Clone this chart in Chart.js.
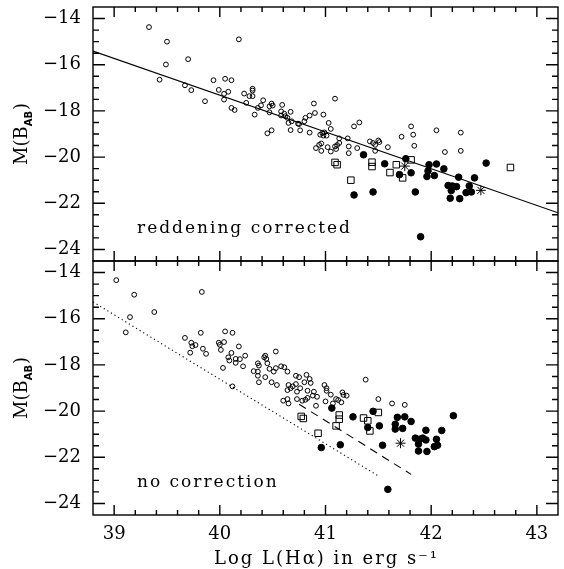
<!DOCTYPE html>
<html>
<head>
<meta charset="utf-8">
<script src="https://cdn.jsdelivr.net/npm/chart.js@4.4.1/dist/chart.umd.min.js"></script>
<style>
  html, body { margin: 0; padding: 0; background: #fff; }
  canvas { display: block; }
</style>
</head>
<body>
<canvas id="myChart" width="564" height="569"></canvas>
<script>
// axis ticks
const xTicks = [39, 40, 41, 42, 43];
const yTicks = [-14, -16, -18, -20, -22, -24];

// top panel: reddening corrected  [log L(Ha), M(B_AB)]
const topOpen = [
  [39.33,-14.37],[39.50,-15.00],[40.18,-14.90],[39.49,-15.99],[39.70,-15.76],[39.43,-16.65],
  [39.67,-16.89],[39.73,-17.10],[39.86,-17.58],[39.94,-16.67],[40.05,-16.61],[40.11,-16.67],
  [39.99,-17.09],[40.04,-17.26],[40.08,-17.17],[40.04,-17.51],[40.11,-17.87],[40.14,-17.96],
  [40.23,-17.25],[40.25,-17.65],[40.31,-17.04],[40.31,-17.12],[40.31,-17.36],[40.28,-17.36],
  [40.41,-17.54],[40.39,-17.76],[40.36,-17.87],[40.33,-18.16],[40.47,-17.80],[40.49,-17.68],
  [40.50,-17.77],[40.47,-18.06],[40.59,-17.74],[40.58,-18.02],[40.58,-18.20],[40.61,-18.12],
  [40.62,-18.23],[40.64,-18.30],[40.67,-18.04],[40.68,-18.45],[40.65,-18.52],[40.74,-18.55],
  [40.75,-18.57],[40.67,-18.83],[40.76,-18.84],[40.80,-18.45],[40.81,-18.30],[40.85,-18.20],
  [40.89,-17.68],[40.90,-18.09],[40.98,-18.16],[41.09,-17.47],[40.85,-18.94],[41.03,-18.52],
  [41.05,-18.78],[40.45,-18.97],[40.49,-18.84],[40.95,-19.03],[40.97,-18.96],[40.99,-18.93],
  [40.98,-19.07],[41.01,-19.07],[40.96,-19.41],[40.94,-19.47],[40.91,-19.61],[40.96,-19.73],
  [41.02,-19.57],[41.05,-19.76],[41.09,-19.54],[41.11,-19.48],[41.13,-19.39],[41.13,-19.19],
  [41.10,-19.65],[41.21,-19.19],[41.22,-19.54],[41.22,-19.83],[41.30,-19.61],[41.27,-18.67],
  [41.32,-18.50],[41.42,-19.32],[41.45,-19.39],[41.50,-19.28],[41.51,-19.35],[41.47,-19.47],
  [41.47,-19.73],[41.59,-19.57],[41.72,-19.12],[41.81,-18.67],[41.83,-19.03],[41.84,-19.51],
  [42.05,-18.84],[42.28,-18.94],[42.13,-19.78],[42.28,-19.73]
];
const topFilled = [
  [41.36,-19.90],[41.56,-20.29],[41.76,-20.07],[41.70,-20.76],[41.81,-20.68],[41.98,-20.33],
  [42.05,-20.30],[41.97,-20.60],[41.96,-20.84],[42.03,-20.80],[42.12,-20.51],[42.26,-20.87],
  [42.41,-20.90],[42.52,-20.26],[41.27,-21.64],[41.45,-21.51],[41.85,-21.51],[41.90,-23.45],
  [42.16,-21.23],[42.20,-21.25],[42.24,-21.28],[42.19,-21.45],[42.36,-21.25],[42.18,-21.78],
  [42.27,-21.80],[42.33,-21.54],[42.38,-21.51]
];
const topSquares = [
  [41.09,-20.23],[41.11,-20.33],[41.24,-21.00],[41.44,-20.22],[41.44,-20.41],[41.61,-20.67],
  [41.67,-20.33],[41.73,-20.90],[41.81,-20.12],[42.75,-20.45]
];
const topStars = [[41.75,-20.39],[42.47,-21.44]];
const fitTop = [[38.8,-15.41],[43.2,-22.41]];

// bottom panel: no correction
const botOpen = [
  [39.02,-14.33],[39.19,-14.96],[39.83,-14.84],[39.15,-15.93],[39.38,-15.71],[39.11,-16.59],
  [39.67,-16.83],[39.82,-16.61],[39.73,-17.04],[39.77,-17.14],[39.74,-17.19],[39.72,-17.47],
  [39.84,-17.30],[39.87,-17.52],[40.05,-16.55],[40.12,-16.61],[39.99,-17.04],[40.04,-17.01],
  [40.00,-17.13],[40.01,-17.35],[40.18,-17.20],[40.03,-18.13],[40.12,-18.93],[40.11,-17.48],
  [40.08,-17.67],[40.09,-17.81],[40.15,-17.91],[40.19,-17.75],[40.15,-17.74],[40.22,-18.06],
  [40.24,-17.60],[40.42,-17.67],[40.43,-17.60],[40.44,-17.74],[40.53,-17.42],[40.36,-17.93],
  [40.37,-18.03],[40.32,-18.27],[40.36,-18.29],[40.36,-18.47],[40.37,-18.75],[40.45,-17.93],
  [40.47,-18.17],[40.43,-18.53],[40.49,-18.75],[40.51,-18.29],[40.53,-18.14],[40.58,-18.06],
  [40.61,-18.10],[40.64,-18.29],[40.54,-18.87],[40.72,-18.47],[40.75,-18.53],[40.72,-18.83],
  [40.65,-18.87],[40.64,-19.09],[40.67,-19.01],[40.69,-18.93],[40.76,-19.01],[40.73,-19.16],
  [40.82,-18.43],[40.85,-18.61],[40.80,-18.75],[40.86,-18.78],[40.83,-19.12],[40.89,-19.16],
  [40.92,-19.38],[40.88,-19.33],[40.91,-19.77],[40.60,-19.55],[40.64,-19.48],[40.65,-19.67],
  [40.73,-19.48],[40.78,-19.55],[40.81,-19.51],[40.83,-19.43],[40.99,-18.87],[41.01,-19.01],
  [41.01,-19.12],[41.05,-19.29],[41.10,-19.48],[41.00,-19.58],[41.12,-19.52],[41.16,-19.19],
  [41.17,-19.30],[41.20,-19.33],[41.15,-19.62],[41.07,-19.67],[41.38,-18.64],[41.50,-19.48],
  [41.63,-19.67],[41.75,-19.73]
];
const botFilled = [
  [41.06,-19.87],[41.26,-20.25],[40.96,-21.58],[41.14,-21.46],[41.45,-20.01],[41.51,-20.64],
  [41.40,-20.71],[41.54,-21.48],[41.59,-23.39],[41.68,-20.27],[41.75,-20.25],[41.66,-20.57],
  [41.66,-20.78],[41.73,-20.75],[41.81,-20.45],[41.95,-20.83],[42.10,-20.84],[42.21,-20.20],
  [41.85,-21.17],[41.89,-21.22],[41.92,-21.17],[41.95,-21.25],[41.88,-21.43],[41.88,-21.73],
  [41.96,-21.75],[42.05,-21.22],[42.06,-21.48],[42.03,-21.54]
];
const botSquares = [
  [40.77,-20.23],[40.79,-20.32],[40.93,-20.96],[41.10,-20.64],[41.13,-20.17],[41.13,-20.35],
  [41.36,-20.30],[41.40,-20.42],[41.42,-20.86],[41.50,-20.06]
];
const botStars = [[41.71,-21.39]];
const dottedBot = [[38.8,-15.27],[41.5,-22.81]];
const dashedBot = [[40.75,-19.70],[41.81,-22.74]];

const serif = 'DejaVu Serif';
const toPts = arr => arr.map(p => ({ x: p[0], y: p[1] }));

function marks(data, axis, style) {
  return Object.assign({
    type: 'scatter', data: toPts(data), yAxisID: axis,
    borderColor: '#000', backgroundColor: 'rgba(0,0,0,0)', borderWidth: 1
  }, style);
}
function line(data, axis, dash) {
  return {
    type: 'scatter', data: toPts(data), yAxisID: axis, showLine: true,
    pointRadius: 0, borderColor: '#000', borderWidth: 1.1, borderDash: dash
  };
}

const openStyle = { pointStyle: 'circle', pointRadius: 2.4 };
const filledStyle = { pointStyle: 'circle', pointRadius: 3.3, backgroundColor: '#000' };
const squareStyle = { pointStyle: 'rect', pointRadius: 4.6 };
const starStyle = { pointStyle: 'star', pointRadius: 5 };

// no extra room for label overflow, the plot box is fixed
function noPad(s) {
  s.paddingTop = 0; s.paddingBottom = 0; s.paddingLeft = 0; s.paddingRight = 0;
}

// frame, inner ticks on all sides, and the texts
const frameTicks = {
  id: 'frameTicks',
  afterDraw(chart) {
    const { ctx, chartArea: ca, scales } = chart;
    const xs = scales.x;
    ctx.save();
    ctx.strokeStyle = '#000';
    ctx.lineWidth = 1.4;
    ['yTop', 'yBot'].forEach(id => {
      const ys = scales[id];
      const t = ys.top, b = ys.bottom, l = ca.left, r = ca.right;
      ctx.strokeRect(l, t, r - l, b - t);
      ctx.beginPath();
      for (let i = 195; i <= 215; i++) {
        const px = xs.getPixelForValue(i / 5);
        const len = i % 5 === 0 ? 10 : 5;
        ctx.moveTo(px, t); ctx.lineTo(px, t + len);
        ctx.moveTo(px, b); ctx.lineTo(px, b - len);
      }
      for (let i = -48; i <= -28; i++) {
        const py = ys.getPixelForValue(i / 2);
        const len = i % 4 === 0 ? 12 : 6;
        ctx.moveTo(l, py); ctx.lineTo(l + len, py);
        ctx.moveTo(r, py); ctx.lineTo(r - len, py);
      }
      ctx.stroke();

      // y title M(B_AB)
      const cy = (t + b) / 2;
      ctx.save();
      ctx.translate(27, cy);
      ctx.rotate(-Math.PI / 2);
      ctx.fillStyle = '#000';
      ctx.textBaseline = 'alphabetic';
      ctx.textAlign = 'left';
      const big = '18px "' + serif + '"', small = 'bold 10px "DejaVu Sans"';
      ctx.font = big; const w1 = ctx.measureText('M(B').width, w3 = ctx.measureText(')').width;
      ctx.font = small; const w2 = ctx.measureText('AB').width + 1;
      let x0 = -(w1 + w2 + w3) / 2;
      ctx.font = big; ctx.fillText('M(B', x0, 0);
      ctx.font = small; ctx.fillText('AB', x0 + w1, 4.5);
      ctx.font = big; ctx.fillText(')', x0 + w1 + w2, 0);
      ctx.restore();
    });

    ctx.fillStyle = '#000';
    ctx.font = '17px "' + serif + '"';
    ctx.letterSpacing = '2px';
    ctx.textAlign = 'left';
    ctx.textBaseline = 'alphabetic';
    ctx.fillText('reddening corrected', ca.left + 44, scales.yTop.bottom - 28.5);
    ctx.fillText('no correction', ca.left + 44, scales.yBot.bottom - 28);

    ctx.font = '18px "' + serif + '"';
    ctx.textAlign = 'center';
    ctx.fillText('Log L(H\u03b1) in erg s\u207b\u00b9', (ca.left + ca.right) / 2 + 1, 564);
    ctx.restore();
  }
};

function yAxis() {
  return {
    type: 'linear', position: 'left', stack: 'panels', stackWeight: 1,
    min: -24.5, max: -13.5,
    grid: { display: false, drawTicks: false }, border: { display: false },
    afterBuildTicks: s => { s.ticks = yTicks.map(v => ({ value: v })); },
    afterFit: s => { s.width = 93; noPad(s); },
    ticks: {
      font: { family: serif, size: 18 }, color: '#000', padding: 12,
      callback: v => '\u2212' + Math.abs(v)
    }
  };
}

new Chart(document.getElementById('myChart').getContext('2d'), {
  type: 'scatter',
  data: {
    datasets: [
      marks(topOpen, 'yTop', openStyle),
      marks(topFilled, 'yTop', filledStyle),
      marks(topSquares, 'yTop', squareStyle),
      marks(topStars, 'yTop', starStyle),
      line(fitTop, 'yTop', []),
      marks(botOpen, 'yBot', openStyle),
      marks(botFilled, 'yBot', filledStyle),
      marks(botSquares, 'yBot', squareStyle),
      marks(botStars, 'yBot', starStyle),
      line(dottedBot, 'yBot', [1.2, 3]),
      line(dashedBot, 'yBot', [8, 6])
    ]
  },
  options: {
    responsive: false,
    animation: false,
    devicePixelRatio: 1,
    events: [],
    layout: { padding: { top: 7, right: 1, left: 0, bottom: 0 } },
    plugins: { legend: { display: false }, tooltip: { enabled: false } },
    scales: {
      // stacked axes are placed bottom-up, so the lower panel comes first
      yBot: yAxis(),
      yTop: yAxis(),
      x: {
        type: 'linear', position: 'bottom', min: 38.8, max: 43.2,
        grid: { display: false, drawTicks: false }, border: { display: false },
        afterBuildTicks: s => { s.ticks = xTicks.map(v => ({ value: v })); },
        afterFit: s => { s.height = 54; noPad(s); },
        ticks: {
          font: { family: serif, size: 18 }, color: '#000', padding: 9,
          maxRotation: 0, autoSkip: false, callback: v => String(v)
        }
      }
    }
  },
  plugins: [frameTicks]
});
</script>
</body>
</html>
